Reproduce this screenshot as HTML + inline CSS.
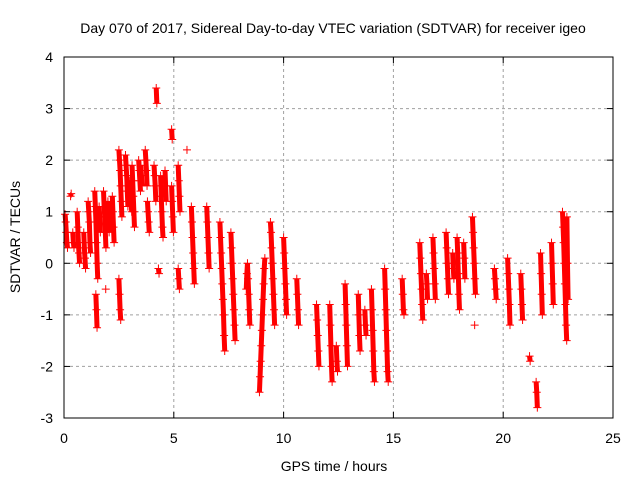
<!DOCTYPE html>
<html><head><meta charset="utf-8"><style>
body{margin:0;background:#fff;}
svg text{font-family:"Liberation Sans",sans-serif;fill:#000;}
</style></head><body>
<svg id="chart" width="640" height="480" xmlns="http://www.w3.org/2000/svg">
<rect width="640" height="480" fill="#fff"/>
<g id="grid"></g>
<g id="marks"></g>
<rect x="64" y="57" width="549" height="361" fill="none" stroke="#000" stroke-width="1"/>
<g id="ticks"></g>
<text x="333" y="33" font-size="14" text-anchor="middle">Day 070 of 2017, Sidereal Day-to-day VTEC variation (SDTVAR) for receiver igeo</text>
<text x="334" y="471" font-size="14" text-anchor="middle">GPS time / hours</text>
<text x="0" y="0" font-size="14" text-anchor="middle" transform="translate(20,237) rotate(-90)">SDTVAR / TECUs</text>
</svg>
<script>
const xTicks=[0,5,10,15,20,25];
const yTicks=[-3,-2,-1,0,1,2,3,4];
const streakTimes=[0.05,0.3,0.6,0.9,1.1,1.4,1.45,1.8,1.9,2.2,2.5,2.5,2.8,3.1,3.4,3.7,3.8,4.1,4.2,4.3,4.4,4.9,4.9,5.2,5.2,5.6,5.8,6.5,7.1,7.6,8.3,8.9,9.4,10.0,10.6,11.5,12.1,12.8,13.4,14.0,14.6,15.4,16.2,16.8,17.4,17.9,18.6,18.7,19.6,20.2,20.8,21.2,21.5,21.7,22.2,22.7,22.9,2.0,3.0,3.5,4.6,1.6,0.4,16.5,17.7,18.2,12.4,13.7];
const streakValues=[
[0.95,0.8,0.6,0.4,0.3],[1.3,1.35],[1.0,0.7,0.4,0.2,0.0],[0.6,0.3,0.1,-0.1],[1.2,1.0,0.8,0.4,0.2],
[1.4,1.1,0.8,0.4,0.0,-0.3],[-0.6,-0.9,-1.25],[1.4,1.1,0.9,0.6,0.3],[-0.5],[1.3,1.0,0.7,0.4],
[2.2,2.0,1.8,1.5,1.2,0.9],[-0.3,-0.6,-0.9,-1.1],[2.1,1.9,1.7,1.4,1.1],[1.9,1.6,1.3,1.0,0.7],[2.0,1.8,1.6,1.4],
[2.2,2.0,1.8,1.5],[1.2,1.0,0.8,0.6],[1.9,1.7,1.5,1.2],[3.4,3.1],[-0.1,-0.2],
[1.7,1.3,1.0,0.7,0.5],[2.6,2.4],[1.5,1.2,0.9,0.6],[1.9,1.6,1.3,1.0],[-0.1,-0.3,-0.5],
[2.2],[1.1,0.8,0.5,0.2,-0.1,-0.4],[1.1,0.8,0.5,0.2,-0.1],[0.8,0.5,0.2,-0.1,-0.4,-0.7,-1.0,-1.4,-1.7],[0.6,0.3,0.0,-0.3,-0.6,-0.9,-1.2,-1.5],
[-0.5,-0.2,0.0,-0.3,-0.6,-0.9,-1.2],[-2.5,-2.2,-1.9,-1.6,-1.3,-1.0,-0.7,-0.4,-0.1,0.1],[0.8,0.6,0.3,0.0,-0.3,-0.6,-0.9,-1.2],[0.5,0.2,-0.1,-0.4,-0.7,-1.0],[-0.3,-0.6,-0.9,-1.2],
[-0.8,-1.1,-1.4,-1.7,-2.0],[-0.8,-1.2,-1.6,-2.0,-2.3],[-0.4,-0.8,-1.2,-1.6,-2.0],[-0.6,-1.0,-1.4,-1.7],[-0.5,-0.9,-1.3,-1.7,-2.1,-2.3],
[-0.1,-0.5,-0.9,-1.3,-1.7,-2.1,-2.3],[-0.3,-0.6,-0.9,-1.0],[0.4,0.1,-0.2,-0.5,-0.8,-1.1],[0.5,0.2,-0.1,-0.4,-0.7],[0.6,0.3,0.0,-0.3,-0.6],
[0.5,0.2,-0.2,-0.6,-0.9],[0.9,0.6,0.3,0.0,-0.3,-0.6],[-1.2],[-0.1,-0.3,-0.5,-0.7],[0.1,-0.2,-0.5,-0.8,-1.2],
[-0.2,-0.5,-0.8,-1.1],[-1.8,-1.9],[-2.3,-2.5,-2.8],[0.2,-0.2,-0.6,-1.0],[0.4,0.0,-0.4,-0.8],
[1.0,0.7,0.4,0.0,-0.4,-0.8,-1.2,-1.5],[0.9,0.0,-0.7],
[1.2,0.9,0.6],[1.6,1.4,1.2,1.0],[1.9,1.7,1.5],[1.8,1.5,1.2],[1.1,0.9,0.6],[0.6,0.4,0.3],
[-0.2,-0.4,-0.7],[0.2,-0.1,-0.3],[0.4,0.1,-0.3],[-1.6,-1.9,-2.1],[-0.9,-1.2,-1.4]];
const X0=64,X1=613,Y0=57,Y1=418;
function sx(t){return X0+(t-0)/25*(X1-X0);}
function sy(v){return Y0+(4-v)/7*(Y1-Y0);}
const NS="http://www.w3.org/2000/svg";
function mk(tag,attrs,parent){const e=document.createElementNS(NS,tag);for(const k in attrs)e.setAttribute(k,attrs[k]);parent.appendChild(e);return e;}
const grid=document.getElementById('grid'),ticks=document.getElementById('ticks'),marks=document.getElementById('marks');
xTicks.forEach(t=>{const x=sx(t);
 if(t>0&&t<25){const g=mk('line',{x1:x,x2:x,y1:Y0,y2:Y1,stroke:'#a0a0a0','stroke-dasharray':'3,3'},grid);
 
 }
 mk('line',{x1:x,x2:x,y1:Y1,y2:Y1-6,stroke:'#000'},ticks);
 mk('line',{x1:x,x2:x,y1:Y0,y2:Y0+6,stroke:'#000'},ticks);
 const l=mk('text',{x:x,y:443,'font-size':14,'text-anchor':'middle'},ticks);l.textContent=t;
 
 
});
yTicks.forEach(v=>{const y=sy(v);
 if(v>-3&&v<4){const g=mk('line',{x1:X0,x2:X1,y1:y,y2:y,stroke:'#a0a0a0','stroke-dasharray':'3,3'},grid);
 
 }
 mk('line',{x1:X0,x2:X0+6,y1:y,y2:y,stroke:'#000'},ticks);
 mk('line',{x1:X1,x2:X1-6,y1:y,y2:y,stroke:'#000'},ticks);
 const l=mk('text',{x:53,y:y+5,'font-size':14,'text-anchor':'end'},ticks);l.textContent=v;
 
 
});
const DRIFT=0.6;
streakTimes.forEach((t,i)=>{const vals=streakValues[i];const x0=sx(t);
 if(vals.length>1){let d='';vals.forEach((v,j)=>{d+=(j?'L':'M')+(x0+j*DRIFT)+','+sy(v);});
  const p=mk('path',{d:d,stroke:'#ff0000','stroke-width':5,fill:'none'},marks);
  
  }
 vals.forEach((v,j)=>{const y=sy(v);const x=x0+j*DRIFT;
  const m=mk('path',{d:`M${x-4},${y}H${x+4}M${x},${y-4}V${y+4}`,stroke:'#ff0000','stroke-width':1},marks);
  
  
 });
});
</script>
</body></html>
